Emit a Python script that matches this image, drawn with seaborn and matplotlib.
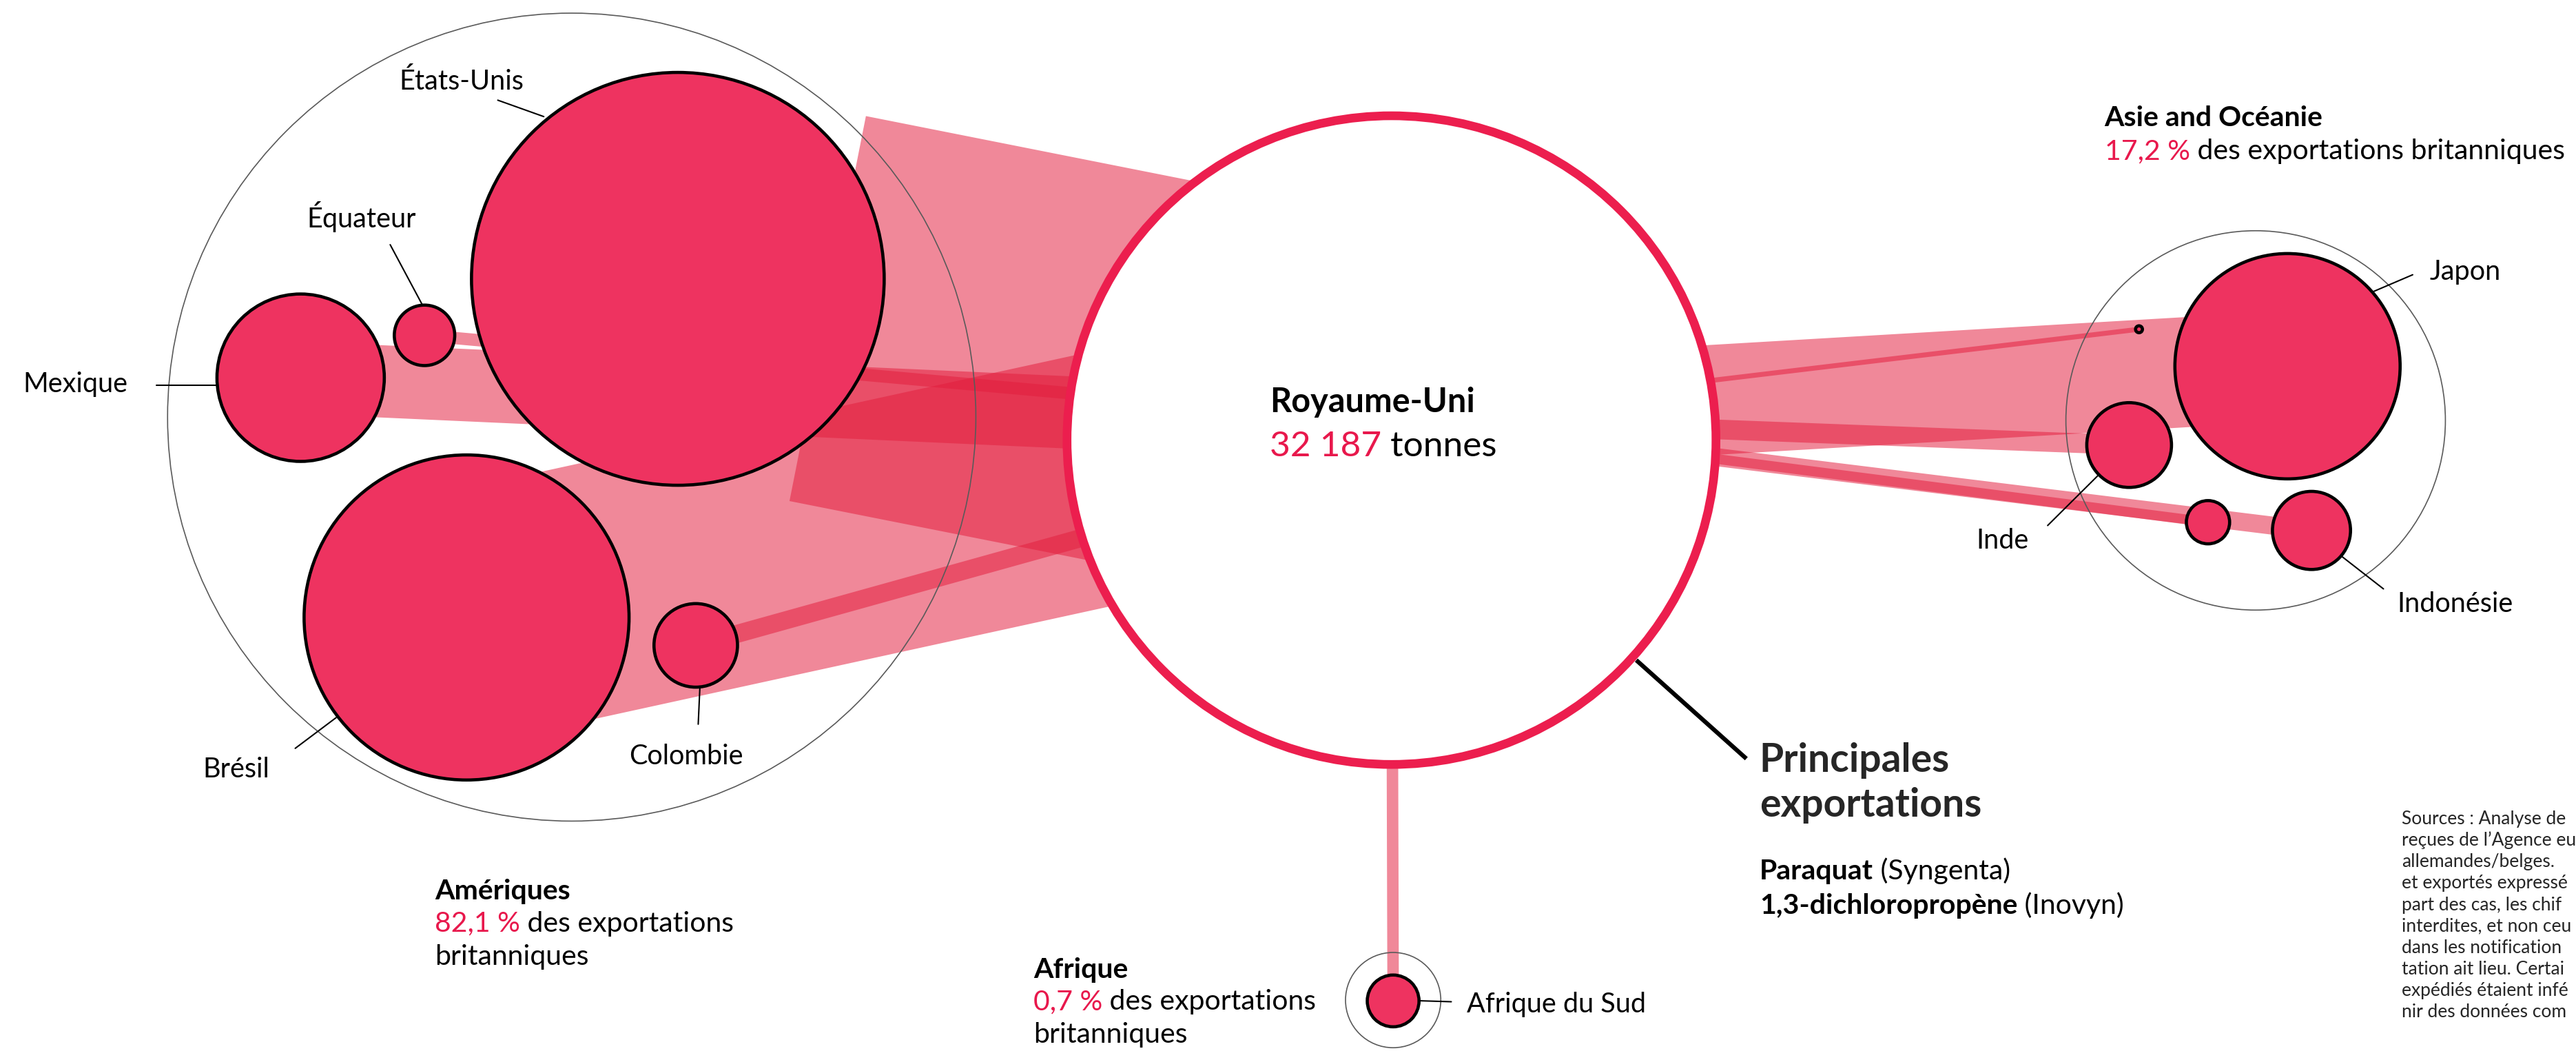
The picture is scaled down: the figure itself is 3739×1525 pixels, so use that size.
import numpy as np
import pandas as pd
import matplotlib
matplotlib.use("Agg")
import matplotlib.pyplot as plt
from matplotlib.patches import Circle, Polygon
import seaborn as sns

# --- data: tonnes exported from the UK ---
countries = ["États-Unis", "Brésil", "Mexique", "Colombie", "Équateur",
             "Japon", "Inde", "Indonésie", "", "",
             "Afrique du Sud"]
regions = ["Amériques"] * 5 + ["Asie and Océanie"] * 5 + ["Afrique"]
tonnes = [14310, 8872, 2353, 586, 307, 4262, 603, 512, 157, 4, 225]
total_label = "32 187"
region_titles = ["Amériques", "Asie and Océanie", "Afrique"]
region_shares = ["82,1 %", "17,2 %", "0,7 %"]
products = [("Paraquat", "(Syngenta)"), ("1,3-dichloropropène", "(Inovyn)")]

# --- layout (canvas units, 1568 x 640) ---
bubble_x = [412.6, 284, 183, 423.5, 258.4, 1392.4, 1296, 1407, 1344, 1302, 848]
bubble_y = [169.8, 376, 230, 393, 204.2, 223, 271, 323, 318, 200.5, 609.5]
band_w = [239, 154, 44, 11, 7.5, 67, 12, 11, 6, 3, 7]
band_anchor_y = [256, 253, 260, 275, 257, 255, 254, 254, 254, 255, 268]
band_start = [0.21, 0, 0, 0, 0, 0, 0, 0, 0, 0, 0]

label_x = [281, 123.5, 14, 383, 220, 1479, 1203, 1459, 0, 0, 893]
label_y = [54.6, 473.4, 239, 465.4, 138.6, 170.5, 334, 372.5, 0, 0, 616.5]
label_ha = ["center", "left", "left", "left", "center", "left", "left", "left",
            "left", "left", "left"]
leaders = [((303, 61), (331, 71)), ((179.7, 455.7), (204.6, 437)),
           ((95, 234.5), (131.5, 234.5)), ((426, 419), (425, 441)),
           ((237.5, 149), (257, 185.5)), ((1445, 177.4), (1468.6, 167.3)),
           ((1246.4, 320), (1277, 289.6)), ((1425.4, 338.8), (1450.8, 358.6)),
           None, None, ((864, 609.4), (883.4, 610))]

region_cx = [348, 1373, 848]
region_cy = [254, 256, 609]
region_r = [246, 115.5, 29]
region_text_xy = [(264.6, 547.5), (1281, 76.7), (629, 595.5)]

uk_xy = (847, 268)
uk_r = 197.5

RED = "#E8184C"
FILL = "#EE3360"
BAND = "#E31E3E"

sns.set_style("white")
plt.rcParams["font.family"] = ["Lato", "DejaVu Sans"]

W, H = 1568, 640
fig = plt.figure(figsize=(37.39, 15.25), dpi=100)
ax = fig.add_axes([0, 0, 1, 1])

df = pd.DataFrame({"pays": countries, "region": regions, "tonnes": tonnes,
                   "x": bubble_x, "y": bubble_y})

# flows: straight bands from the UK centre to each country
for i, row in df.iterrows():
    a = np.array([uk_xy[0], band_anchor_y[i]])
    c = np.array([row.x, row.y])
    p1 = c + (a - c) * band_start[i]
    d = a - p1
    d = d / np.hypot(*d)
    n = np.array([-d[1], d[0]]) * band_w[i] / 2
    pts = [p1 + n, a + n, a - n, p1 - n]
    ax.add_patch(Polygon(pts, closed=True, fc=BAND, ec="none", alpha=0.53, zorder=1))

# region outlines
for cx, cy, r in zip(region_cx, region_cy, region_r):
    ax.add_patch(Circle((cx, cy), r, fc="none", ec="#5a5a5a", lw=1.2, zorder=3))

# country bubbles, area proportional to tonnes
px_per_unit = fig.get_figwidth() * fig.dpi / W
k = 1.05  # canvas units per sqrt(tonne)
smax = (2 * k * np.sqrt(max(tonnes)) * px_per_unit * 72 / fig.dpi) ** 2
sns.scatterplot(data=df, x="x", y="y", size="tonnes", sizes=(0, smax),
                size_norm=(0, max(tonnes)), color=FILL, edgecolor="black",
                linewidth=3.3, legend=False, ax=ax, zorder=4)
ax.set_xlim(0, W)
ax.set_ylim(H, 0)
ax.axis("off")

# UK hub
ax.add_patch(Circle(uk_xy, uk_r, fc="white", ec="#EC1E4E", lw=9.1, zorder=5))

# country labels and leaders
for i, name in enumerate(countries):
    if not name:
        continue
    ax.text(label_x[i], label_y[i], name, fontsize=28.5, ha=label_ha[i],
            va="baseline", color="black", zorder=7)
    if leaders[i]:
        (x0, y0), (x1, y1) = leaders[i]
        ax.plot([x0, x1], [y0, y1], color="black", lw=1.5, zorder=6)


def rich_line(x, y, parts, size):
    prev = None
    for txt, color, weight in parts:
        if prev is None:
            prev = ax.text(x, y, txt, color=color, fontsize=size, fontweight=weight,
                           va="baseline", ha="left", zorder=7)
        else:
            prev = ax.annotate(txt, xy=(1, 0), xycoords=prev, va="bottom", ha="left",
                               color=color, fontsize=size, fontweight=weight, zorder=7)


# UK label
rich_line(772.8, 251, [("Royaume-Uni", "black", "bold")], 35)
rich_line(772.8, 278, [(total_label, RED, "normal"), (" tonnes", "black", "normal")], 37)

# region texts
RS = 29.5
(tx, ty) = region_text_xy[0]
rich_line(tx, ty, [(region_titles[0], "black", "bold")], RS)
rich_line(tx, ty + 19.8, [(region_shares[0], RED, "normal"),
                          (" des exportations", "black", "normal")], RS)
rich_line(tx, ty + 40, [("britanniques", "black", "normal")], RS)

(tx, ty) = region_text_xy[1]
rich_line(tx, ty, [(region_titles[1], "black", "bold")], RS)
rich_line(tx, ty + 20.3, [(region_shares[1], RED, "normal"),
                          (" des exportations britanniques", "black", "normal")], RS)

(tx, ty) = region_text_xy[2]
rich_line(tx, ty, [(region_titles[2], "black", "bold")], RS)
rich_line(tx, ty + 19.5, [(region_shares[2], RED, "normal"),
                          (" des exportations", "black", "normal")], RS)
rich_line(tx, ty + 39.5, [("britanniques", "black", "normal")], RS)

# main exports
ax.plot([996, 1063], [402, 462], color="black", lw=4.5, solid_capstyle="butt", zorder=6)
ax.text(1071, 470, "Principales", fontsize=41, fontweight="bold", va="baseline", zorder=7)
ax.text(1071, 497.5, "exportations", fontsize=41, fontweight="bold", va="baseline", zorder=7)
for j, (prod, firm) in enumerate(products):
    rich_line(1071, 535.7 + j * 20.8, [(prod, "black", "bold"),
                                       (" " + firm, "black", "normal")], 29.5)

# sources note: only the part visible in the original crop
source_lines = ["Sources : Analyse de",
                "reçues de l’Agence eu",
                "allemandes/belges.",
                "et exportés expressé",
                "part des cas, les chif",
                "interdites, et non ceu",
                "dans les notification",
                "tation ait lieu. Certai",
                "expédiés étaient infé",
                "nir des données com"]
for j, line in enumerate(source_lines):
    ax.text(1462, 502 + j * 13.05, line, fontsize=19, va="baseline", zorder=7)

fig.savefig("out.png", dpi=100, facecolor="white")
